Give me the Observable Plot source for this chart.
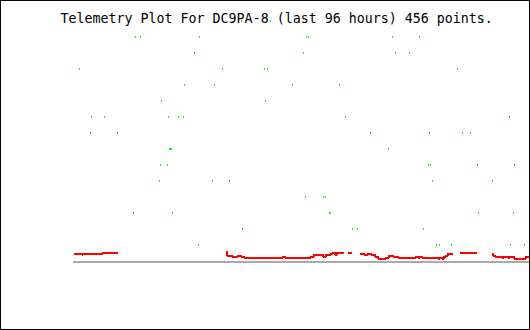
<!DOCTYPE html>
<html><head><meta charset="utf-8">
<script src="https://cdn.jsdelivr.net/npm/d3@7"></script>
<script src="https://cdn.jsdelivr.net/npm/@observablehq/plot@0.6"></script>
<style>
html,body{margin:0;padding:0;background:#fff;}
#chart{position:relative;width:530px;height:330px;overflow:hidden;}
#chart svg{display:block;}
#chart::after{content:"";position:absolute;left:0;top:0;width:530px;height:330px;box-sizing:border-box;border:1px solid #000;pointer-events:none;}
</style></head><body><div id="chart"></div>
<script>
const title = "Telemetry Plot For DC9PA-8 (last 96 hours) 456 points.";
const pointCount = 456;
const levelMax = 256;

// green channel: sample indices found at each quantized level
const greenLevels = [240, 224, 208, 192, 176, 160, 144, 128, 112, 96, 80, 64, 48, 32, 16];
const greenSamples = [
  [168, 197, 408],
  [62, 67, 126, 233, 235, 319, 346],
  [121, 230, 322, 336],
  [6, 149, 191, 194, 384],
  [111, 141, 219, 266],
  [88, 192],
  [18, 31, 95, 105, 110, 272, 436],
  [17, 44, 297, 356, 389, 397],
  [96, 97, 98, 315],
  [87, 94, 355, 357, 404, 441],
  [86, 139, 156, 359, 419],
  [232, 250, 252],
  [60, 99, 256, 257, 405, 440],
  [169, 279, 284, 350],
  [125, 363, 366, 378, 437, 451]
];

// red channel: sample index and value (NaN = no data)
const redSamples = [0, 8, 9, 29, 44, 45,
  152, 153, 158, 164, 167, 170, 209, 211, 237, 240, 249, 252, 257, 259, 261, 263, 270, 271,
  274, 278, 279,
  286, 290, 294, 297, 301, 304, 312, 315, 319, 324, 342, 344, 346, 348, 364, 366, 368, 370, 372, 374, 379, 380,
  386, 403, 404,
  418, 419, 421, 422, 428, 430, 434, 436, 440, 452, 456];
const redValues = [8, 7, 8, 9, 9, NaN,
  10, 6, 5, 6, 5, 4, 5, 4, 5, 7, 5, 7, 8, 9, 7, 9, 9, NaN,
  9, 9, NaN,
  8, 7, 8, 7, 5, 3, 4, 6, 5, 4, 5, 4, 5, 4, 3, 4, 3, 5, 6, 8, 8, NaN,
  9, 9, NaN,
  8, 6, 5, 5, 4, 5, 4, 5, 3, 5, 5];

const greenDots = greenLevels.flatMap((v, i) => greenSamples[i].map(x => ({x, v})));

const chart = Plot.plot({
  width: 530,
  height: 330,
  marginLeft: 73,
  marginRight: 1,
  marginTop: 5,
  marginBottom: 69,
  x: {domain: [0, pointCount], axis: null},
  y: {domain: [0, levelMax], axis: null},
  marks: [
    Plot.text([title], {
      frameAnchor: "top-left", text: d => d, textAnchor: "start", lineAnchor: "bottom",
      dx: -13, dy: 17, fontFamily: "DejaVu Sans Mono", fontSize: 13.3, fill: "#000"
    }),
    Plot.ruleY([0], {stroke: "#aaaaaa", strokeWidth: 2, shapeRendering: "crispEdges"}),
    Plot.line(redSamples, {
      x: redSamples, y: redValues, curve: "step-after",
      stroke: "#ff0000", strokeWidth: 2, strokeLinecap: "butt", strokeLinejoin: "miter",
      shapeRendering: "crispEdges"
    }),
    Plot.rect(greenDots, {
      x1: "x", x2: d => d.x + 1, y1: d => d.v - 1, y2: d => d.v + 1,
      fill: "#00ff00", shapeRendering: "crispEdges"
    })
  ]
});
document.getElementById("chart").appendChild(chart);
</script>
</body></html>
